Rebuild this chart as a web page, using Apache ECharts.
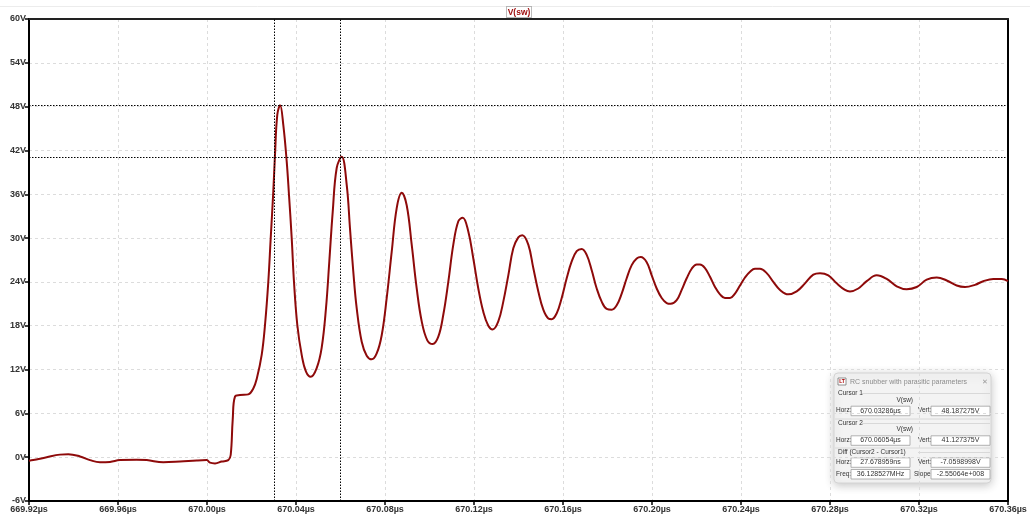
<!DOCTYPE html>
<html>
<head>
<meta charset="utf-8">
<script src="https://cdn.jsdelivr.net/npm/echarts@6/dist/echarts.min.js"></script>
<style>
html,body{margin:0;padding:0;background:#fff;}
#chart{width:1030px;height:532px;}
</style>
</head>
<body>
<div id="chart"></div>
<script>
// ---- data ----
const seriesName = 'V(sw)';
const timeUs = [
  669.92000, 669.92193, 669.92796, 669.93393, 669.93766, 669.94292, 669.94742, 669.95191,
  669.95640, 669.96090, 669.96840, 669.97290, 669.98036, 669.98787, 669.99537, 669.99987,
  670.00135, 670.00360, 670.00661, 670.00957, 670.01065, 670.01155, 670.01258, 670.01483,
  670.01856, 670.02081, 670.02234, 670.02458, 670.02607, 670.02755, 670.02863, 670.02980,
  670.03056, 670.03160, 670.03286, 670.03429, 670.03582, 670.03685, 670.03807, 670.03910,
  670.04059, 670.04256, 670.04450, 670.04661, 670.04930, 670.05155, 670.05348, 670.05497,
  670.05650, 670.05829, 670.06054, 670.06279, 670.06427, 670.06575, 670.06728, 670.06953,
  670.07178, 670.07402, 670.07627, 670.07852, 670.08077, 670.08301, 670.08526, 670.08751,
  670.08975, 670.09200, 670.09425, 670.09650, 670.09901, 670.10144, 670.10396, 670.10620,
  670.10845, 670.11070, 670.11295, 670.11492, 670.11744, 670.11969, 670.12193, 670.12418,
  670.12643, 670.12841, 670.13092, 670.13317, 670.13542, 670.13766, 670.13991, 670.14171,
  670.14441, 670.14665, 670.14890, 670.15115, 670.15340, 670.15492, 670.15717, 670.15942,
  670.16166, 670.16391, 670.16616, 670.16841, 670.17065, 670.17290, 670.17515, 670.17739,
  670.17964, 670.18189, 670.18414, 670.18638, 670.18863, 670.19088, 670.19313, 670.19492,
  670.19762, 670.19987, 670.20211, 670.20436, 670.20661, 670.20840, 670.21110, 670.21335,
  670.21559, 670.21784, 670.22009, 670.22157, 670.22382, 670.22607, 670.22832, 670.23056,
  670.23281, 670.23506, 670.23730, 670.23955, 670.24180, 670.24405, 670.24629, 670.24854,
  670.25155, 670.25452, 670.25753, 670.26126, 670.26503, 670.26876, 670.27250, 670.27551,
  670.27924, 670.28302, 670.28674, 670.28899, 670.29272, 670.29650, 670.30099, 670.30549,
  670.30998, 670.31447, 670.31897, 670.32346, 670.32796, 670.33245, 670.33694, 670.34068,
  670.34517, 670.34890, 670.35340, 670.35717, 670.36000
];
const voltV = [
  -0.5, -0.4, 0.0, 0.35, 0.4, 0.1, -0.4, -0.7,
  -0.65, -0.4, -0.35, -0.4, -0.7, -0.6, -0.45, -0.4,
  -0.75, -0.85, -0.6, -0.4, 0.3, 5.1, 8.3, 8.5,
  8.6, 9.4, 10.7, 14.0, 18.1, 24.0, 30.0, 36.4,
  41.4, 46.9, 48.19, 45.5, 40.5, 35.9, 30.0, 24.0,
  18.1, 14.0, 11.7, 11.0, 12.2, 15.0, 20.4, 26.8,
  33.6, 39.6, 41.13, 37.3, 31.3, 25.4, 20.4, 15.8,
  13.9, 13.4, 14.2, 16.7, 21.8, 28.1, 34.1, 36.2,
  34.5, 29.1, 23.1, 18.6, 16.0, 15.5, 16.5, 19.5,
  24.0, 29.1, 32.3, 32.8, 30.9, 27.2, 23.1, 19.9,
  18.0, 17.5, 18.6, 21.3, 24.9, 28.6, 30.1, 30.4,
  29.1, 25.9, 22.7, 20.2, 19.0, 18.9, 19.7, 21.8,
  24.5, 26.8, 28.2, 28.5, 27.7, 25.6, 23.1, 21.3,
  20.3, 20.2, 20.8, 22.4, 24.5, 26.3, 27.2, 27.4,
  26.7, 24.9, 23.1, 21.8, 21.1, 21.0, 21.5, 22.9,
  24.5, 25.8, 26.4, 26.4, 25.9, 24.7, 23.3, 22.3,
  21.8, 21.8, 22.4, 23.5, 24.6, 25.4, 25.8, 25.8,
  25.2, 24.0, 22.9, 22.3, 22.7, 23.8, 25.0, 25.2,
  24.9, 23.8, 22.9, 22.7, 23.1, 24.1, 24.9, 24.4,
  23.4, 23.0, 23.3, 24.3, 24.6, 24.2, 23.5, 23.3,
  23.6, 24.1, 24.4, 24.4, 24.1
];
const xTicksUs = [669.92, 669.96, 670.00, 670.04, 670.08, 670.12, 670.16, 670.20, 670.24, 670.28, 670.32, 670.36];
const yTicksV = [-6, 0, 6, 12, 18, 24, 30, 36, 42, 48, 54, 60];
const cursor1 = { t: 670.03286, v: 48.187275 };
const cursor2 = { t: 670.06054, v: 41.127375 };
const dialogTitle = 'RC snubber with parasitic parameters';
const cursor1Text = ['670.03286µs', '48.187275V'];
const cursor2Text = ['670.06054µs', '41.127375V'];
const diffText = ['27.678959ns', '-7.0598998V'];
const freqText = ['36.128527MHz', '-2.55064e+008'];

// ---- chart ----
const chart = echarts.init(document.getElementById('chart'), null, { renderer: 'canvas' });
const data = timeUs.map((t, i) => [t, voltV[i]]);
const labelFont = { fontFamily: 'Liberation Sans, Arial, sans-serif', fontSize: 9, fontWeight: 'bold', color: '#333' };
const dlgFont = 'Liberation Sans, Arial, sans-serif';

function txt(x, y, s, opts) {
  opts = opts || {};
  return {
    type: 'text', x: x, y: y, silent: true,
    style: {
      text: s, fill: opts.fill || '#333', fontSize: opts.size || 6.5,
      fontFamily: dlgFont, align: opts.align || 'left', verticalAlign: 'middle'
    }
  };
}
function box(x, y, w, h) {
  return { type: 'rect', shape: { x: x, y: y, width: w, height: h }, style: { fill: '#fff', stroke: '#a0a0a0', lineWidth: 0.8 }, silent: true };
}
function hline(x1, x2, y) {
  return { type: 'line', shape: { x1: x1, y1: y, x2: x2, y2: y }, style: { stroke: '#d8d8d8', lineWidth: 1 }, silent: true };
}
function row(y, l1, v1, l2, v2) {
  return [
    txt(2, y, l1), box(17, y - 4.5, 59, 9.5), txt(46.5, y, v1, { align: 'center', size: 7 }),
    txt(l2 === 'Slope:' ? 80 : 84, y, l2), box(97, y - 4.5, 59, 9.5), txt(126.5, y, v2, { align: 'center', size: 7 })
  ];
}

const dialog = {
  type: 'group', x: 834, y: 373, z: 100,
  children: [
    { type: 'rect', shape: { x: 0, y: 0, width: 157, height: 110, r: 4 },
      style: { fill: '#f3f3f3', stroke: '#d4d4d4', lineWidth: 1, shadowBlur: 10, shadowColor: 'rgba(0,0,0,0.22)', shadowOffsetY: 2 }, silent: true },
    { type: 'rect', shape: { x: 4, y: 5, width: 8, height: 7 }, style: { fill: '#fff', stroke: '#666', lineWidth: 0.7 }, silent: true },
    { type: 'text', x: 8, y: 8.5, silent: true, style: { text: 'LT', fill: '#a00', fontSize: 5, fontWeight: 'bold', fontFamily: dlgFont, align: 'center', verticalAlign: 'middle' } },
    txt(16, 9, dialogTitle, { fill: '#8c8c8c', size: 7 }),
    txt(151, 9, '✕', { fill: '#999', size: 7, align: 'center' }),
    txt(4, 20, 'Cursor 1'), hline(28, 156, 20.5),
    txt(70.7, 27, seriesName, { align: 'center' }),
    ...row(37.7, 'Horz:', cursor1Text[0], 'Vert:', cursor1Text[1]),
    hline(1, 156, 46),
    txt(4, 50, 'Cursor 2'), hline(28, 156, 50.5),
    txt(70.7, 56.7, seriesName, { align: 'center' }),
    ...row(67.3, 'Horz:', cursor2Text[0], 'Vert:', cursor2Text[1]),
    hline(1, 156, 75),
    txt(4, 79, 'Diff (Cursor2 - Cursor1)'), hline(84, 156, 79.5),
    ...row(89.3, 'Horz:', diffText[0], 'Vert:', diffText[1]),
    ...row(101, 'Freq:', freqText[0], 'Slope:', freqText[1])
  ]
};

const frameAxis = {
  axisLine: { show: true, onZero: false, lineStyle: { color: '#000', width: 2 } },
  axisTick: { show: false }, axisLabel: { show: false }, splitLine: { show: false }
};

const option = {
  animation: false,
  backgroundColor: '#fff',
  grid: { left: 29, right: 22, top: 19, bottom: 31, show: false },
  xAxis: [{
    type: 'value', min: xTicksUs[0], max: xTicksUs[xTicksUs.length - 1], interval: 0.04,
    axisLine: { show: true, onZero: false, lineStyle: { color: '#000', width: 2 } },
    axisTick: { show: true, length: 4, lineStyle: { color: '#000', width: 1.5 } },
    axisLabel: Object.assign({ margin: 4, formatter: v => v.toFixed(2) + 'µs', showMinLabel: true, showMaxLabel: true }, labelFont),
    splitLine: { show: true, lineStyle: { color: '#dcdcdc', type: [3, 3], width: 1 } }
  }, Object.assign({ type: 'value', position: 'top', min: xTicksUs[0], max: xTicksUs[xTicksUs.length - 1] }, frameAxis, { axisLine: { show: true, onZero: false, lineStyle: { color: '#222', width: 2 } } })],
  yAxis: [{
    type: 'value', min: yTicksV[0], max: yTicksV[yTicksV.length - 1], interval: 6,
    axisLine: { show: true, onZero: false, lineStyle: { color: '#000', width: 2 } },
    axisTick: { show: true, length: 4, lineStyle: { color: '#000', width: 1.5 } },
    axisLabel: Object.assign({ margin: 3, formatter: v => v + 'V' }, labelFont),
    splitLine: { show: true, lineStyle: { color: '#dcdcdc', type: [3, 3], width: 1 } }
  }, Object.assign({ type: 'value', position: 'right', min: yTicksV[0], max: yTicksV[yTicksV.length - 1] }, frameAxis)],
  series: [{
    name: seriesName, type: 'line', data: data, showSymbol: false, smooth: 0.4,
    lineStyle: { color: '#8e0a0a', width: 2 }, clip: true,
    markLine: {
      silent: true, symbol: ['none', 'none'], label: { show: false }, animation: false,
      lineStyle: { color: '#000', type: [1.5, 1.5], width: 1 },
      data: [
        { xAxis: cursor1.t }, { xAxis: cursor2.t },
        { yAxis: cursor1.v }, { yAxis: cursor2.v }
      ]
    }
  }],
  graphic: [
    { type: 'line', shape: { x1: 0, y1: 6.5, x2: 1030, y2: 6.5 }, style: { stroke: '#ececec', lineWidth: 1 }, silent: true },
    { type: 'rect', shape: { x: 506.5, y: 6.5, width: 25, height: 11 }, style: { fill: '#fff', stroke: '#555', lineWidth: 0.8, lineDash: [1, 1] }, silent: true, z: 10 },
    { type: 'text', x: 519, y: 12.3, z: 11, silent: true, style: { text: seriesName, fill: '#a01010', fontSize: 8.5, fontWeight: 'bold', fontFamily: 'Liberation Sans, Arial, sans-serif', align: 'center', verticalAlign: 'middle' } },
    dialog
  ]
};
chart.setOption(option);
</script>
</body>
</html>
